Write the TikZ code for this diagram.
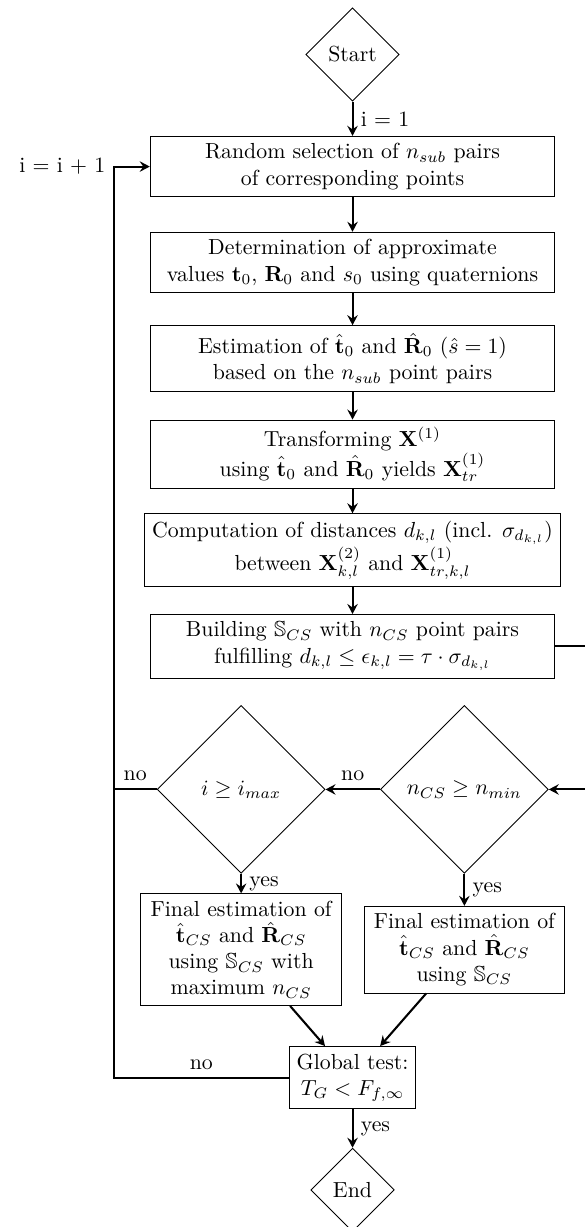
\documentclass[tikz,border=0pt]{standalone}
\usepackage{amsfonts}
\usepackage{amsmath}
\usepackage{amssymb}
\usetikzlibrary{positioning, shapes.geometric, arrows.meta}

\begin{document}
\begin{tikzpicture}[-, node distance = 44pt, on grid, auto,
  block/.style = {draw, align=center, minimum width=185.6pt},
  final/.style = {draw, align=center, text width=3cm},
  decision/.style = {draw, diamond, minimum size=77pt, inner sep=0pt},
  terminal/.style = {draw, diamond},
  link/.style = {line width=0.95pt},
  flow/.style = {link, -{Stealth[length=4.6pt, width=4.8pt, inset=1.6pt]}}]
\useasboundingbox (0,0) rectangle (267.9pt,-562.8pt);
\coordinate (loop) at (52.1pt,0);
\coordinate (back) at (275pt,0);
\node[terminal] (start) at (161.7pt,-25pt) {Start};
\node[block, below=51.4pt of start] (select) {Random selection of $n_{sub}$ pairs\\of corresponding points};
\draw[flow] (start) -- node[right] {i = 1} (select);
\node[block, below=of select] (approx) {Determination of approximate\\values $\mathbf{t}_0$, $\mathbf{R}_0$ and $s_0$ using quaternions};
\draw[flow] (select) -- (approx);
\node[block, below=of approx] (estim) {Estimation of $\hat{\mathbf{t}}_0$ and $\hat{\mathbf{R}}_0$ ($\hat{s}=1$)\\based on the $n_{sub}$ point pairs};
\draw[flow] (approx) -- (estim);
\node[block, below=of estim] (trans) {Transforming $\mathbf{X}^{(1)}$\\using $\hat{\mathbf{t}}_0$ and $\hat{\mathbf{R}}_0$ yields $\mathbf{X}_{tr}^{(1)}$};
\draw[flow] (estim) -- (trans);
\node[block, below=of trans] (dist) {Computation of distances $d_{k,l}$ (incl. $\sigma_{d_{k,l}}$)\\between $\mathbf{X}_{k,l}^{(2)}$ and $\mathbf{X}_{tr,k,l}^{(1)}$};
\draw[flow] (trans) -- (dist);
\node[block, below=of dist] (build) {Building $\mathbb{S}_{CS}$ with $n_{CS}$ point pairs\\fulfilling $d_{k,l} \leq \epsilon_{k,l} = \tau \cdot \sigma_{d_{k,l}}$};
\draw[flow] (dist) -- (build);
% decisions
\node[decision, below right=65.7pt and 51.3pt of build] (ncs) {$n_{CS} \geq n_{min}$};
\node[decision, left=102.4pt of ncs] (imax) {$i \geq i_{max}$};
\draw[flow] (build) -- (build -| back) |- (ncs);
\draw[flow] (ncs) -- node[above] {no} (imax);
\draw[link] (imax) -- node[above] {no} (imax -| loop);
\node[final, below=73.5pt of imax] (bestcs) {Final estimation of\\$\hat{\mathbf{t}}_{CS}$ and $\hat{\mathbf{R}}_{CS}$\\using $\mathbb{S}_{CS}$ with\\maximum $n_{CS}$};
\node[final, below=73.5pt of ncs] (finalcs) {Final estimation of\\$\hat{\mathbf{t}}_{CS}$ and $\hat{\mathbf{R}}_{CS}$\\using $\mathbb{S}_{CS}$};
\draw[flow] (imax) -- node[right] {yes} (bestcs);
\draw[flow] (ncs) -- node[right] {yes} (finalcs);
% global test
\node[draw, align=center, below=197.9pt of build] (global) {Global test:\\$T_G < F_{f,\infty}$};
\draw[flow] (bestcs) -- (global);
\draw[flow] (finalcs) -- (global);
\draw[flow] (global) -- node[above] {no} (global -| loop) -- (select -| loop) node[left] {i = i + 1} -- (select);
\node[terminal, below=51.5pt of global] (end) {End};
\draw[flow] (global) -- node[right] {yes} (end);
\end{tikzpicture}
\end{document}
